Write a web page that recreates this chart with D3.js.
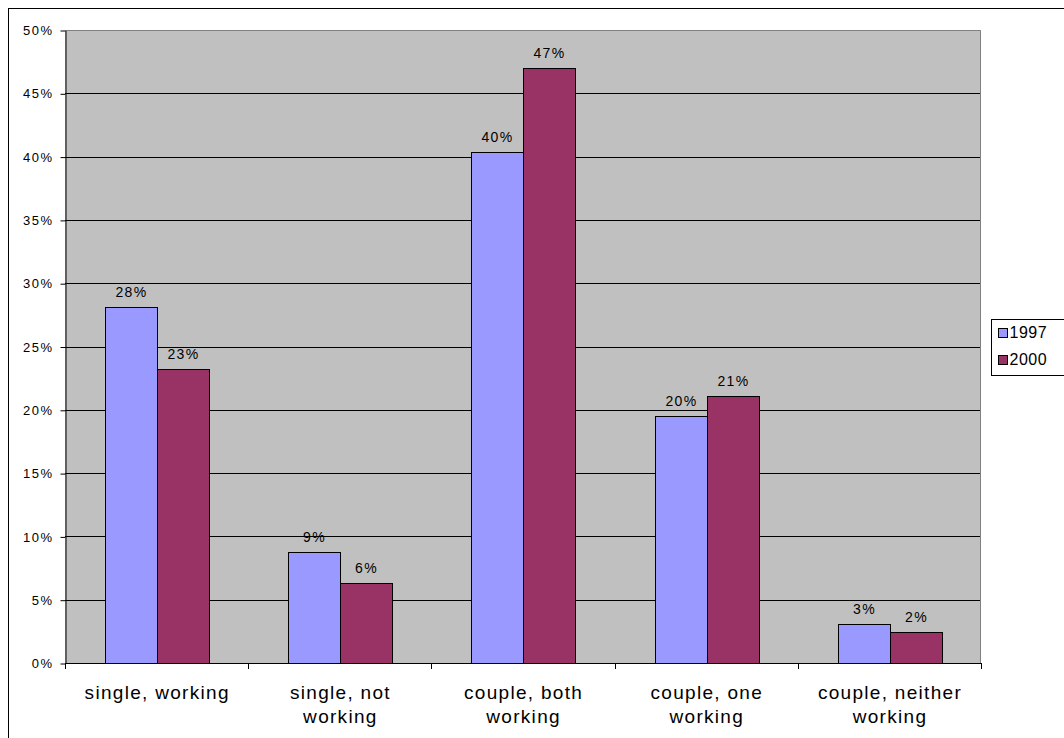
<!DOCTYPE html>
<html>
<head>
<meta charset="utf-8">
<script src="https://cdn.jsdelivr.net/npm/d3@7"></script>
<style>
  body { margin: 0; background: #fff; }
  svg { display: block; font-family: "Liberation Sans", Arial, sans-serif; }
</style>
</head>
<body>
<div id="chart"></div>
<script>
// data
const categories = [["single, working"], ["single, not", "working"], ["couple, both", "working"],
                    ["couple, one", "working"], ["couple, neither", "working"]];
const years = ["1997", "2000"];
const values1997 = [28.1, 8.8, 40.4, 19.5, 3.1];
const values2000 = [23.2, 6.3, 47.0, 21.1, 2.45];
const labels1997 = ["28%", "9%", "40%", "20%", "3%"];
const labels2000 = ["23%", "6%", "47%", "21%", "2%"];
const yTicks = [0, 5, 10, 15, 20, 25, 30, 35, 40, 45, 50];
const colors = ["#9999FF", "#993366"];

const width = 1064, height = 738;
const plot = {left: 65, top: 30, right: 981, bottom: 663};

const svg = d3.select("#chart").append("svg")
    .attr("width", width)
    .attr("height", height);

// outer chart border (runs off right & bottom)
svg.append("rect")
    .attr("x", 8.5).attr("y", 8.5)
    .attr("width", 1100).attr("height", 800)
    .attr("fill", "#fff").attr("stroke", "#000");

let x = d3.scaleBand()
    .domain(d3.range(categories.length))
    .range([plot.left, plot.right])
    .paddingInner(0).paddingOuter(0);

let y = d3.scaleLinear()
    .domain([0, 50])
    .range([plot.bottom, plot.top]);

// plot background
svg.append("rect")
    .attr("x", plot.left).attr("y", plot.top)
    .attr("width", plot.right - plot.left)
    .attr("height", plot.bottom - plot.top)
    .attr("fill", "#C0C0C0");

// gridlines
svg.append("g").selectAll("line").data(yTicks.filter(d => d > 0 && d < 50)).enter()
    .append("line")
    .attr("x1", plot.left).attr("x2", plot.right)
    .attr("y1", d => Math.round(y(d)) + 0.5).attr("y2", d => Math.round(y(d)) + 0.5)
    .attr("stroke", "#000");

// plot border (top + right in gray)
svg.append("path")
    .attr("d", `M${plot.left},${plot.top + 0.5}H${plot.right - 0.5}V${plot.bottom}`)
    .attr("fill", "none").attr("stroke", "#808080");

// bars
const series = [values1997, values2000];
const seriesLabels = [labels1997, labels2000];
const barW = 52, groupOff = 40;

series.forEach(function(vals, si) {
    let g = svg.append("g");
    g.selectAll("rect").data(vals).enter()
        .append("rect")
        .attr("x", (d, i) => Math.round(x(i) + groupOff + si * barW) + 0.5)
        .attr("y", d => Math.round(y(d)) + 0.5)
        .attr("width", barW)
        .attr("height", d => Math.round(y(0)) - Math.round(y(d)))
        .attr("fill", colors[si])
        .attr("stroke", "#000");

    g.selectAll("text").data(vals).enter()
        .append("text")
        .attr("x", (d, i) => Math.round(x(i) + groupOff + si * barW) + barW / 2 + 0.5)
        .attr("y", d => Math.round(y(d)) - 10)
        .style("text-anchor", "middle")
        .style("font-size", "14px")
        .style("letter-spacing", "1.3px")
        .attr("fill", "#000")
        .text((d, i) => seriesLabels[si][i]);
});

// y axis
let yAxis = svg.append("g")
    .attr("transform", `translate(${plot.left + 0.5},0.5)`)
    .call(d3.axisLeft(y).tickValues(yTicks).tickFormat(d => d + "%").tickSize(5).tickPadding(7).tickSizeOuter(0));
yAxis.selectAll("text")
    .style("font-size", "13px")
    .style("letter-spacing", "1.5px")
    .style("font-family", "Liberation Sans, Arial, sans-serif")
    .attr("fill", "#000");
yAxis.selectAll("line").attr("stroke", "#000");
yAxis.select(".domain").attr("stroke", "#000");

// x axis
let xg = svg.append("g");
xg.append("line")
    .attr("x1", plot.left).attr("x2", plot.right)
    .attr("y1", plot.bottom + 0.5).attr("y2", plot.bottom + 0.5)
    .attr("stroke", "#000");
xg.selectAll("line.tick").data(d3.range(categories.length + 1)).enter()
    .append("line")
    .attr("class", "tick")
    .attr("x1", i => Math.round(plot.left + i * x.bandwidth()) + 0.5)
    .attr("x2", i => Math.round(plot.left + i * x.bandwidth()) + 0.5)
    .attr("y1", plot.bottom).attr("y2", plot.bottom + 6)
    .attr("stroke", "#000");

xg.selectAll("text").data(categories).enter()
    .append("text")
    .attr("x", (d, i) => x(i) + x.bandwidth() / 2 + 0.6)
    .attr("y", 699)
    .style("text-anchor", "middle")
    .style("font-size", "19px")
    .style("letter-spacing", "1.3px")
    .attr("fill", "#000")
    .each(function(d) {
        d3.select(this).selectAll("tspan").data(d).enter()
            .append("tspan")
            .attr("x", d3.select(this).attr("x"))
            .attr("dy", (t, j) => j === 0 ? 0 : 24)
            .text(t => t);
    });

// legend
let legend = svg.append("g").attr("transform", "translate(991.5,319.5)");
legend.append("rect")
    .attr("width", 100).attr("height", 56)
    .attr("fill", "#fff").attr("stroke", "#000");
years.forEach(function(yr, i) {
    legend.append("rect")
        .attr("x", 7).attr("y", 9 + i * 27)
        .attr("width", 9).attr("height", 9)
        .attr("fill", colors[i]).attr("stroke", "#000");
    legend.append("text")
        .attr("x", 18).attr("y", 18.5 + i * 27)
        .style("font-size", "16px")
        .style("letter-spacing", "0.5px")
        .attr("fill", "#000")
        .text(yr);
});
</script>
</body>
</html>
